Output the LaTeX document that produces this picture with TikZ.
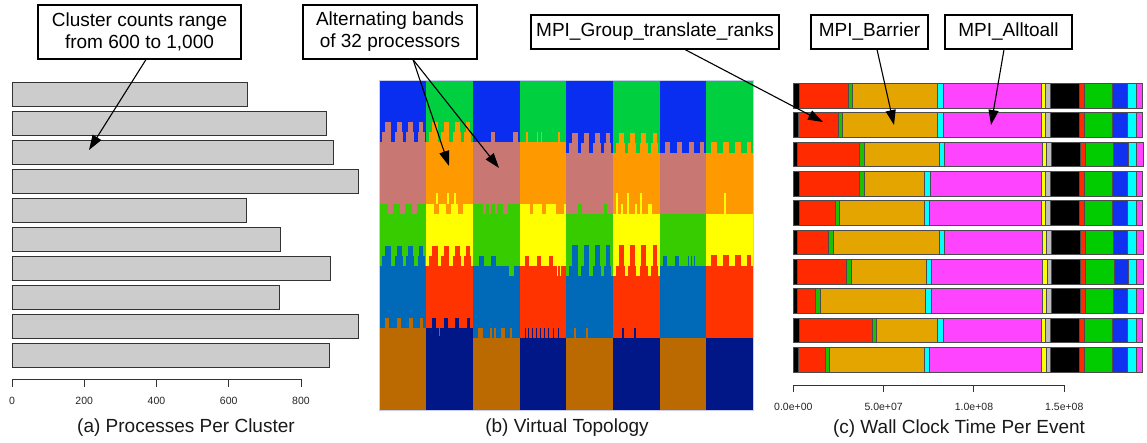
\documentclass[tikz,border=0pt]{standalone}
\usepackage{fontspec}
\setmainfont{Liberation Sans}
\usetikzlibrary{arrows.meta}

% topology band colours (A = even columns, B = odd columns)
\definecolor{topoA1}{HTML}{0A2EF0}
\definecolor{topoA2}{HTML}{C87773}
\definecolor{topoA3}{HTML}{36CC00}
\definecolor{topoA4}{HTML}{006AB8}
\definecolor{topoA5}{HTML}{BA6A00}
\definecolor{topoB1}{HTML}{00D040}
\definecolor{topoB2}{HTML}{FF9900}
\definecolor{topoB3}{HTML}{FFFF00}
\definecolor{topoB4}{HTML}{FF3300}
\definecolor{topoB5}{HTML}{011788}
\definecolor{panelEdge}{HTML}{C8CCEE}

% event segment colours, left to right
\definecolor{seg1}{HTML}{000000}
\definecolor{seg2}{HTML}{FF2A00}
\definecolor{seg3}{HTML}{1EBE00}
\definecolor{seg4}{HTML}{E5A500}
\definecolor{seg5}{HTML}{00FFFF}
\definecolor{seg6}{HTML}{FF44FF}
\definecolor{seg7}{HTML}{FFFF00}
\definecolor{seg8}{HTML}{BEBEBE}
\definecolor{seg9}{HTML}{000000}
\definecolor{seg10}{HTML}{FF2A00}
\definecolor{seg11}{HTML}{00CC00}
\definecolor{seg12}{HTML}{1032F0}
\definecolor{seg13}{HTML}{00FFFF}
\definecolor{seg14}{HTML}{FF44FF}

\tikzset{
  callout/.style={draw, line width=1.1pt, fill=white, inner sep=0pt, align=center,
    font=\fontsize{19}{22}\selectfont},
  caption/.style={font=\fontsize{19}{22}\selectfont, text=black!90},
  ticklabel/.style={font=\fontsize{10.5}{12}\selectfont, text=black!85, inner sep=0pt},
  axisline/.style={draw=black!80, line width=1pt},
  greybar/.style={fill=black!20, draw=black!80, line width=0.9pt},
  segline/.style={draw=black!70, line width=0.7pt},
  pointer/.style={-{Triangle[length=15pt,width=10pt]}, line width=1.1pt, black},
}

% teeth along a band boundary: colour, column index, y, list dx/w/h
\newcommand\comb[4]{%
  \pgfmathsetmacro\cx{379.7+46.66*#2}%
  \edef\combspec{#4}%
  \foreach \dx/\w/\h in \combspec
    \fill[#1] ({\cx+\dx},#3) rectangle ({\cx+\dx+\w},{#3+\h});
}
\def\combTwo{2.5/9/-10, 15/8/-10, 26.5/8/-10, 38/7/-10, 5.7/5.5/-20, 17.3/5/-20, 28.3/5/-20, 39.7/3.8/-20}
\def\combThree{2.5/9/-10.3, 15/8/-10.3, 26.5/8/-10.3, 38/7/-10.3, 5.7/5.5/-31, 17.3/5/-31, 28.3/5/-31, 39.7/3.8/-31}
\def\combOne{5/5.5/-10.5, 17/5.5/-10.5, 29/5.5/-10.5, 40.5/4/-10.5}
\def\combDown{8/5/10.3, 20/5/10.3, 32/5/10.3}

% one stacked bar of the event timeline: top y, segment ends
\newcommand\eventbar[2]{%
  \foreach \b [remember=\b as \a (initially 40), count=\i] in {#2}
    \filldraw[segline, fill=seg\i] ({780+\a/3},#1) rectangle ({780+\b/3},{#1+24.7});
}

\begin{document}
\begin{tikzpicture}[x=1pt, y=-1pt]
\useasboundingbox (0,0) rectangle (1147,442);
\fill[white] (0,0) rectangle (1147,442);

% ---------- (a) processes per cluster ----------
\foreach \i/\r in {0/247,1/326,2/333,3/358,4/246,5/280,6/330,7/279,8/358,9/329}
  \filldraw[greybar] (12,{82+29*\i}) rectangle (\r,{82+29*\i+24.5});
\draw[axisline] (12,379.3) -- (301,379.3);
\foreach \v in {0,200,400,600,800}{
  \draw[axisline] ({12+0.36125*\v},379.3) -- ++(0,7.4);
  \node[ticklabel] (lt\v) at ({12+0.36125*\v},401) {\v};
}
\node[caption] (capA) at (186,428) {(a) Processes Per Cluster};

% ---------- (b) virtual topology ----------
\foreach \c/\ba/\bb/\bc/\bd/\p in {
  0/141.7/204/265.7/327.7/A, 1/141.7/204/265.7/327.7/B,
  2/141.7/204/265.7/337.7/A, 3/141.7/204/265.7/337.7/B,
  4/152.7/214.3/276/337.7/A, 5/152.7/214.3/276/337.7/B,
  6/152.7/214.3/265.7/337.7/A, 7/152.7/214.3/265.7/337.7/B}{
  \pgfmathsetmacro\xa{379.7+46.66*\c}
  \pgfmathsetmacro\xb{min(\xa+46.9,753)}
  \fill[topo\p1] (\xa,80.7) rectangle (\xb,\ba);
  \fill[topo\p2] (\xa,\ba) rectangle (\xb,\bb);
  \fill[topo\p3] (\xa,\bb) rectangle (\xb,\bc);
  \fill[topo\p4] (\xa,\bc) rectangle (\xb,\bd);
  \fill[topo\p5] (\xa,\bd) rectangle (\xb,410);
}
% boundary 1/2
\comb{topoA2}{0}{141.7}{\combTwo}
\comb{topoB2}{1}{141.7}{\combTwo}
\comb{topoA2}{2}{141.7}{17.7/4.7/-10, 40/5/-10}
\comb{topoB2}{3}{141.7}{6.5/1.5/-10, 17/1.5/-10, 21/1.5/-10, 38/2/-10}
\comb{topoA2}{4}{152.7}{\combTwo}
\comb{topoB2}{5}{152.7}{\combTwo}
\comb{topoA2}{6}{152.7}{\combOne}
\comb{topoB2}{7}{152.7}{\combOne}
% boundary 2/3
\comb{topoA2}{0}{204}{\combDown}
\comb{topoB2}{1}{204}{\combDown}
\comb{topoB3}{1}{204}{10/1.5/-10.7, 21/2/-10.7, 28/1.5/-10.7}
\comb{topoA2}{2}{204}{10/3/10.3, 16/2/10.3, 22/2/10.3, 30/5/10.3}
\comb{topoB2}{3}{204}{10/3/10.3, 22/4/10.3, 36/8/10.3}
\comb{topoA3}{4}{214.3}{12/4/-10.3, 38/3/-10.3}
\comb{topoB3}{5}{214.3}{3/1.5/-21, 8/1.5/-10, 14/2/-21, 22/1.5/-10, 27/1.5/-21, 35/4/-10}
\comb{topoB3}{7}{214.3}{18/1.5/-21}
% boundary 3/4
\comb{topoA4}{0}{265.7}{\combTwo}
\comb{topoB4}{1}{265.7}{\combTwo}
\comb{topoA4}{2}{265.7}{6/5/-10, 18/5/-10}
\comb{topoA3}{2}{265.7}{36/5/10.3}
\comb{topoB4}{3}{265.7}{5/4/-10, 17/4/-10, 29/4/-10}
\comb{topoB3}{3}{265.7}{37/1.5/10.3, 40/1.5/10.3}
\comb{topoA4}{4}{276}{\combThree}
\comb{topoB4}{5}{276}{\combThree}
\comb{topoA4}{6}{265.7}{3/4/-10, 15/4/-10, 28/1.5/-10, 31/1.5/-10, 34/1.5/-10}
\comb{topoB4}{7}{265.7}{\combOne}
% boundary 4/5
\comb{topoA5}{0}{327.7}{5.7/4/-10, 17.3/4/-10, 29/4/-10, 40.7/3/-10}
\comb{topoB5}{1}{327.7}{5.7/4/-10, 17.3/4/-10, 29/4/-10, 40.7/3/-10}
\comb{topoB4}{1}{327.7}{13/1/8}
\comb{topoA5}{2}{337.7}{5/5/-10, 17/1.5/-10, 21/1.5/-10, 28/4/-10, 37/2/-10}
\comb{topoB5}{3}{337.7}{5/1.5/-10, 8/1.5/-10, 12/1.5/-10, 16/1.5/-10, 20/1.5/-10, 24/1.5/-10, 28/1.5/-10, 33/1.5/-10, 38/1.5/-10}
\comb{topoA5}{4}{337.7}{8/2/-10, 20/2/-10}
\comb{topoB5}{5}{337.7}{9/1.5/-10, 21/1.5/-10}
\draw[panelEdge, line width=0.8pt] (379.7,80.7) rectangle (753,410);
\node[caption] (capB) at (567,428) {(b) Virtual Topology};

% ---------- (c) wall clock time per event ----------
\eventbar{83.3}{58,205,217,472,490,783,795,812,897,912,997,1042,1068,1088}
\eventbar{112.6}{55,175,187,473,490,783,795,812,897,912,997,1042,1068,1088}
\eventbar{141.9}{52,238,252,477,493,788,800,815,900,915,1000,1045,1070,1090}
\eventbar{171.2}{58,238,252,433,452,783,795,812,897,912,997,1042,1068,1088}
\eventbar{200.6}{58,167,178,433,449,783,795,812,897,912,997,1042,1068,1088}
\eventbar{229.9}{52,145,160,477,493,787,798,815,900,915,1000,1043,1070,1090}
\eventbar{259.3}{52,199,215,438,455,788,802,815,900,915,1002,1045,1070,1090}
\eventbar{288.6}{52,106,121,436,455,787,800,815,900,915,1000,1043,1070,1090}
\eventbar{317.9}{58,277,288,473,491,783,795,810,897,912,997,1042,1068,1088}
\eventbar{347.2}{55,136,148,433,449,783,798,812,897,912,997,1042,1068,1088}
\draw[axisline] (793.3,385) -- (1064.3,385);
\foreach \k/\t in {0/0.0e+00,1/5.0e+07,2/1.0e+08,3/1.5e+08}{
  \draw[axisline] ({793.3+90.33*\k},385) -- ++(0,7);
  \node[ticklabel] (rt\k) at ({793.3+90.33*\k},406.7) {\t};
}
\node[caption] (capC) at (959,429) {(c) Wall Clock Time Per Event};

% ---------- callouts ----------
\node[callout, minimum width=203pt, minimum height=54pt] (boxA) at (139.5,32)
  {Cluster counts range\\from 600 to 1,000};
\node[callout, minimum width=174pt, minimum height=54pt] (boxB) at (390,32)
  {Alternating bands\\of 32 processors};
\node[callout, minimum width=248pt, minimum height=34pt] (boxC) at (655,32)
  {MPI\_Group\_translate\_ranks};
\node[callout, minimum width=117pt, minimum height=34pt] (boxD) at (869.5,32)
  {MPI\_Barrier};
\node[callout, minimum width=127pt, minimum height=34pt] (boxE) at (1008.5,32)
  {MPI\_Alltoall};

\coordinate (tA) at (89,150);
\coordinate (tB1) at (449,166);
\coordinate (tB2) at (499,168);
\coordinate (tC) at (823,122);
\coordinate (tD) at (894,125);
\coordinate (tE) at (991,125);

\draw[pointer] ([xshift=6.5pt]boxA.south) -- (tA);
\draw[pointer] ([xshift=23pt]boxB.south) -- (tB1);
\draw[pointer] ([xshift=23pt]boxB.south) -- (tB2);
\draw[pointer] ([xshift=30pt]boxC.south) -- (tC);
\draw[pointer] ([xshift=7.5pt]boxD.south) -- (tD);
\draw[pointer] ([xshift=-4.5pt]boxE.south) -- (tE);
\end{tikzpicture}
\end{document}
